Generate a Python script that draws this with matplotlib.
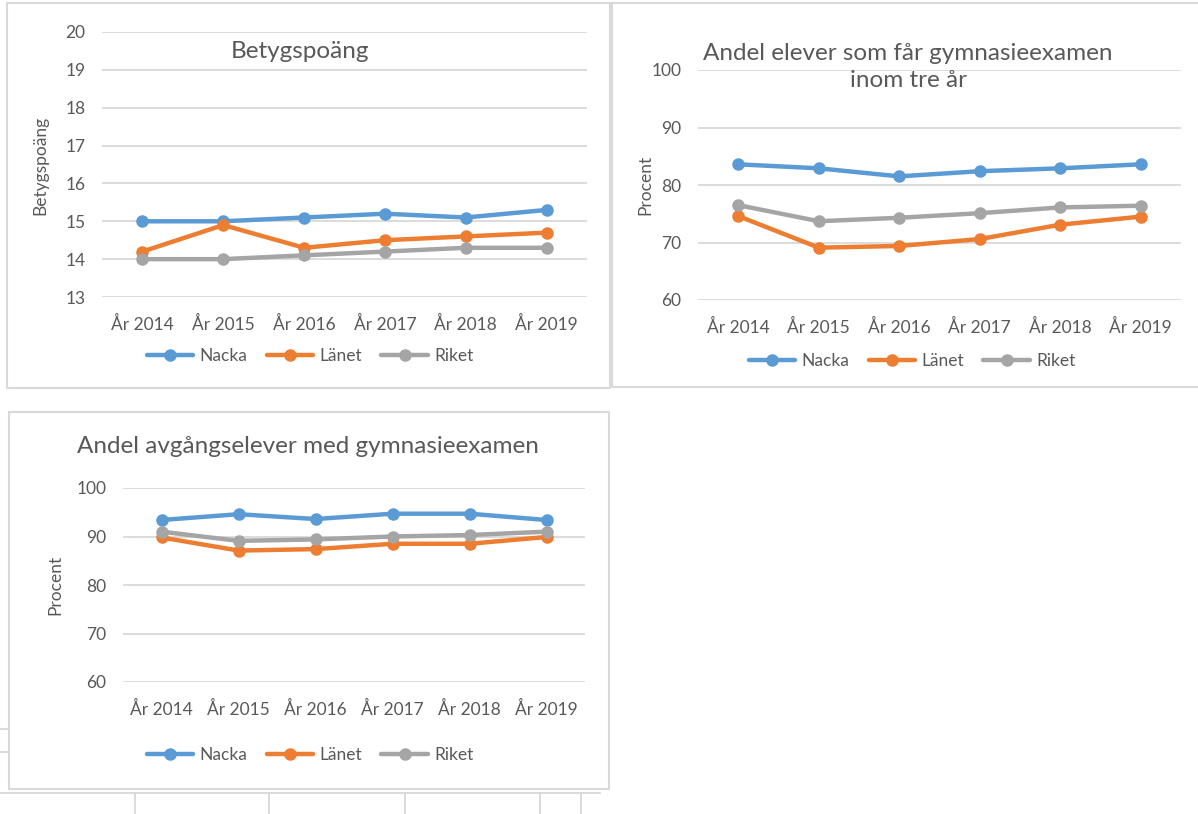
import matplotlib
matplotlib.use("Agg")
import matplotlib.pyplot as plt
from matplotlib.patches import Rectangle
from matplotlib.lines import Line2D

plt.rcParams['font.family'] = ['Lato', 'DejaVu Sans']

years = ["År 2014", "År 2015", "År 2016", "År 2017", "År 2018", "År 2019"]
series_names = ["Nacka", "Länet", "Riket"]
colors = ["#5B9BD5", "#ED7D31", "#A5A5A5"]

betyg_nacka = [15.0, 15.0, 15.1, 15.2, 15.1, 15.3]
betyg_lanet = [14.2, 14.9, 14.3, 14.5, 14.6, 14.7]
betyg_riket = [14.0, 14.0, 14.1, 14.2, 14.3, 14.3]

tre_ar_nacka = [83.6, 82.9, 81.5, 82.4, 82.9, 83.6]
tre_ar_lanet = [74.6, 69.1, 69.4, 70.6, 73.1, 74.5]
tre_ar_riket = [76.5, 73.7, 74.3, 75.1, 76.1, 76.4]

avg_nacka = [93.4, 94.6, 93.6, 94.7, 94.7, 93.4]
avg_lanet = [89.8, 87.1, 87.4, 88.5, 88.5, 89.9]
avg_riket = [91.0, 89.1, 89.4, 90.0, 90.3, 91.0]

W, H = 1198, 814
TXT = "#595959"
GRID = "#D9D9D9"

fig = plt.figure(figsize=(W / 100, H / 100), dpi=100)


def fx(x):
    return x / W


def fy(y):
    return 1 - y / H


def box(x0, y0, x1, y1):
    # chart frame in pixel coords
    fig.add_artist(Rectangle((fx(x0), fy(y1)), fx(x1) - fx(x0), fy(y0) - fy(y1),
                             transform=fig.transFigure, fill=False,
                             edgecolor="#D9D9D9", linewidth=1.5))


def hline(x0, x1, y):
    fig.add_artist(Line2D([fx(x0), fx(x1)], [fy(y), fy(y)], transform=fig.transFigure,
                          color="#D4D4D4", linewidth=1.2))


def vline(x, y0, y1):
    fig.add_artist(Line2D([fx(x), fx(x)], [fy(y0), fy(y1)], transform=fig.transFigure,
                          color="#D4D4D4", linewidth=1.2))


def chart(px, ylim, yticks, data, title_lines, title_pos, ylabel, ylabel_pos, legend_pos):
    x0, y0, x1, y1 = px
    ax = fig.add_axes([fx(x0), fy(y1), fx(x1) - fx(x0), fy(y0) - fy(y1)])
    ax.set_facecolor("none")
    xs = range(len(years))
    for vals, c, name in zip(data, colors, series_names):
        ax.plot(xs, vals, color=c, linewidth=3.2, marker="o", markersize=8, label=name,
                solid_capstyle="round", zorder=3)
    ax.set_xlim(-0.5, len(years) - 0.5)
    ax.set_ylim(*ylim)
    ax.set_yticks(yticks)
    ax.set_xticks(list(xs))
    ax.set_xticklabels(years)
    ax.grid(axis="y", color=GRID, linewidth=1.3)
    ax.set_axisbelow(True)
    for s in ax.spines.values():
        s.set_visible(False)
    ax.tick_params(length=0, labelsize=12.5, labelcolor=TXT)
    ax.tick_params(axis="y", pad=12)
    ax.tick_params(axis="x", pad=13.5)
    fig.text(fx(title_pos[0]), fy(title_pos[1]), title_lines, ha="center", va="center",
             fontsize=17.5, color=TXT, linespacing=1.3)
    fig.text(fx(ylabel_pos[0]), fy(ylabel_pos[1]), ylabel, rotation=90, ha="center",
             va="center", fontsize=12.5, color=TXT)
    ax.legend(loc="center", bbox_to_anchor=(fx(legend_pos[0]), fy(legend_pos[1])),
              bbox_transform=fig.transFigure, ncol=3, frameon=False, fontsize=12.5,
              labelcolor=TXT, handlelength=2.7, handletextpad=0.35, columnspacing=1.1,
              markerscale=1.0)
    return ax


# frames
box(7, 3, 610, 388)
box(612, 3, 1205, 387)
box(9, 412, 609, 789)

chart((102, 32, 587, 297), (13, 20), range(13, 21),
      [betyg_nacka, betyg_lanet, betyg_riket],
      "Betygspoäng", (300, 52), "Betygspoäng", (40, 165), (310, 356))

chart((698, 70, 1181, 300), (60, 100), range(60, 101, 10),
      [tre_ar_nacka, tre_ar_lanet, tre_ar_riket],
      "Andel elever som får gymnasieexamen\ninom tre år", (908, 67), "Procent", (645, 185),
      (912, 361))

chart((123, 488, 585, 682), (60, 100), range(60, 101, 10),
      [avg_nacka, avg_lanet, avg_riket],
      "Andel avgångselever med gymnasieexamen", (308, 446), "Procent", (55, 585),
      (310, 755))

# spreadsheet cell lines under the charts
hline(0, 600, 793)
for x in [135, 269, 405, 540, 581]:
    vline(x, 793, 814)
hline(0, 8, 729)
hline(0, 8, 752)

fig.savefig("out.png", dpi=100)
